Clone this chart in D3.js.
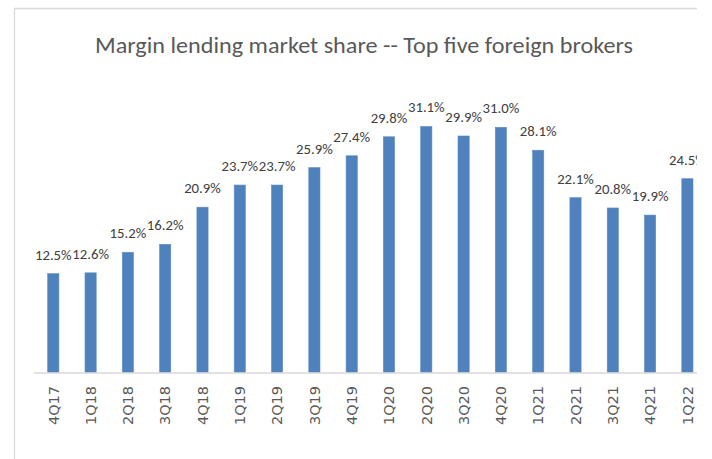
<!DOCTYPE html>
<html>
<head>
<meta charset="utf-8">
<script src="https://cdn.jsdelivr.net/npm/d3@7"></script>
<style>
  html, body { margin: 0; padding: 0; background: #ffffff; }
  svg { display: block; }
</style>
</head>
<body>
<svg id="chart" width="712" height="459"></svg>
<script>
const titleText = "Margin lending market share -- Top five foreign brokers";
const categories = ["4Q17","1Q18","2Q18","3Q18","4Q18","1Q19","2Q19","3Q19","4Q19","1Q20","2Q20","3Q20","4Q20","1Q21","2Q21","3Q21","4Q21","1Q22"];
const values = [12.5,12.6,15.2,16.2,20.9,23.7,23.7,25.9,27.4,29.8,31.1,29.9,31.0,28.1,22.1,20.8,19.9,24.5];

const svg = d3.select("#chart");
const W = 712, H = 459;

svg.append("defs").append("clipPath").attr("id", "clip")
  .append("rect").attr("x", 0).attr("y", 0).attr("width", 697).attr("height", H);

const g = svg.append("g").attr("clip-path", "url(#clip)");

// chart frame (top and left border visible)
g.append("path")
  .attr("d", `M14.5,${H} V8.5 H697`)
  .attr("fill", "none")
  .attr("stroke", "#d9d9d9")
  .attr("stroke-width", 1.3);

const x = d3.scaleBand()
  .domain(categories)
  .range([34.65, 706.05])
  .paddingInner(0.7)
  .paddingOuter(0.35);

const y = d3.scaleLinear()
  .domain([0, 35])
  .range([372.5, 372.5 - 7.91 * 35]);

// bars
g.selectAll("rect.bar")
  .data(values)
  .join("rect")
  .attr("class", "bar")
  .attr("x", (d, i) => x(categories[i]))
  .attr("y", d => y(d))
  .attr("width", x.bandwidth())
  .attr("height", d => y(0) - y(d))
  .attr("fill", "#4f81bd")
  .attr("stroke", "#5b8cc6")
  .attr("stroke-width", 0.6);

// x axis
const xAxis = d3.axisBottom(x).tickSize(0).tickPadding(0);
const ax = g.append("g")
  .attr("transform", `translate(0,${y(0)})`)
  .call(xAxis);
ax.select(".domain")
  .attr("d", `M34,0.5 H697`)
  .attr("stroke", "#d9d9d9")
  .attr("stroke-width", 1.3);
ax.selectAll(".tick text")
  .attr("transform", "translate(0,13.5) rotate(-90)")
  .attr("x", 0)
  .attr("y", 0)
  .attr("dy", "0.36em")
  .attr("text-anchor", "end")
  .style("font-family", "'DejaVu Sans', sans-serif")
  .style("font-size", "14.5px")
  .attr("fill", "#595959");

// data labels
const fmt = v => d3.format(".1f")(v) + "%";
const labels = g.selectAll("text.lbl")
  .data(values)
  .join("text")
  .attr("class", "lbl")
  .attr("x", (d, i) => x(categories[i]) + x.bandwidth() / 2)
  .attr("y", d => y(d) - 14)
  .attr("text-anchor", "middle")
  .style("font-family", "Carlito, Lato, 'Open Sans', sans-serif")
  .style("font-weight", "300")
  .style("font-size", "14.3px")
  .attr("fill", "#404040")
  .text(d => fmt(d));

const ref = labels.node().getComputedTextLength();
const ratio = ref > 0 ? 36.7 / ref : 1;
labels.each(function() {
  const w = this.getComputedTextLength();
  d3.select(this).attr("textLength", w * ratio).attr("lengthAdjust", "spacingAndGlyphs");
});

// title
svg.append("text")
  .attr("x", 364)
  .attr("y", 52.7)
  .attr("text-anchor", "middle")
  .style("font-family", "Carlito, Lato, 'Open Sans', sans-serif")
  .style("font-weight", "300")
  .style("font-size", "22.3px")
  .attr("fill", "#595959")
  .attr("textLength", 538)
  .attr("lengthAdjust", "spacingAndGlyphs")
  .text(titleText);
</script>
</body>
</html>
